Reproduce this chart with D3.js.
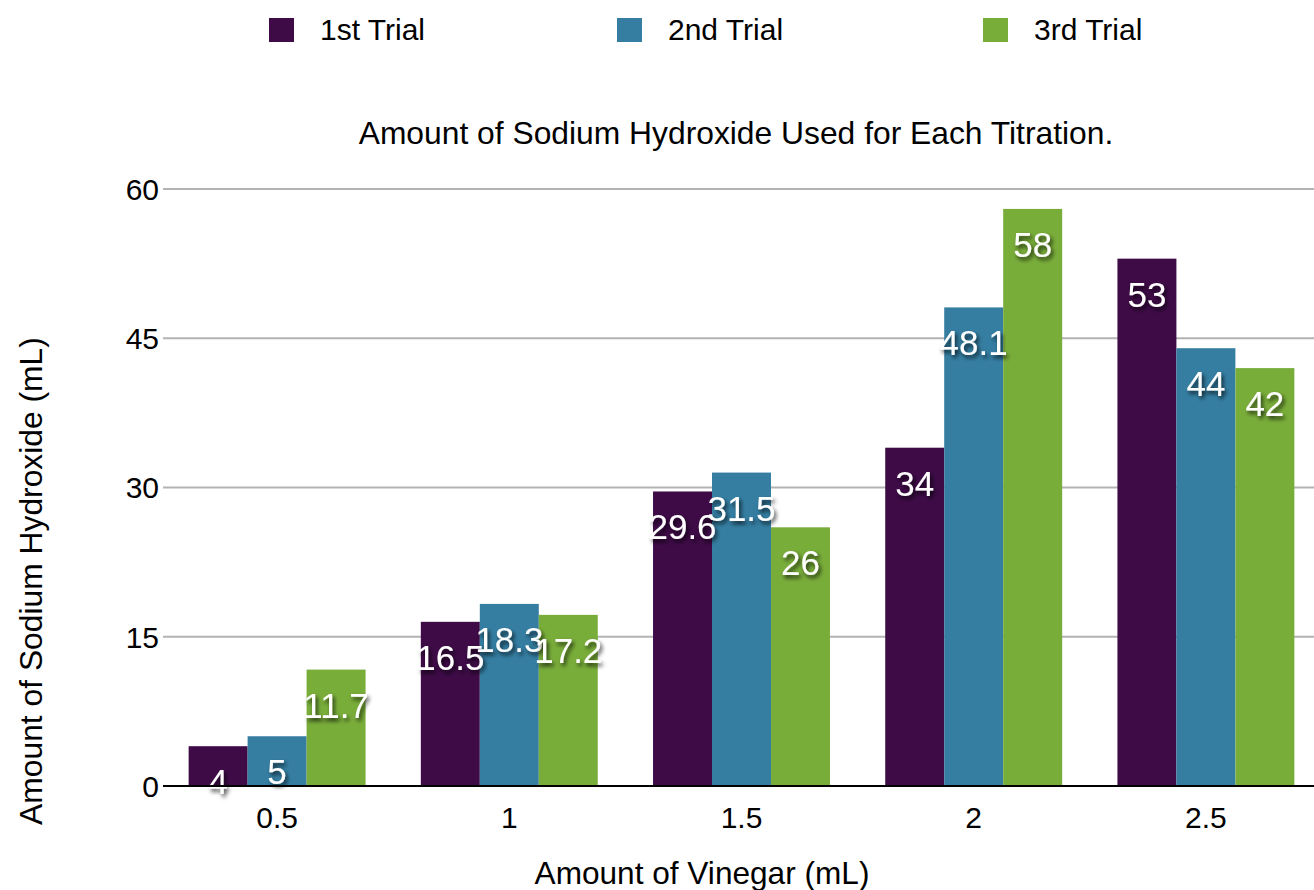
<!DOCTYPE html>
<html>
<head>
<meta charset="utf-8">
<script src="https://cdn.jsdelivr.net/npm/d3@7"></script>
<style>
  html, body { margin: 0; padding: 0; background: #fff; }
  svg { display: block; font-family: "Liberation Sans", Arial, Helvetica, sans-serif; }
</style>
</head>
<body>
<svg id="chart" width="1314" height="890"></svg>
<script>
const categories = ["0.5", "1", "1.5", "2", "2.5"];
const seriesNames = ["1st Trial", "2nd Trial", "3rd Trial"];
const trial1 = [4, 16.5, 29.6, 34, 53];
const trial2 = [5, 18.3, 31.5, 48.1, 44];
const trial3 = [11.7, 17.2, 26, 58, 42];
const yTicks = [0, 15, 30, 45, 60];
const colors = ["#3e0b47", "#357ea2", "#79ad3a"];
const chartTitle = "Amount of Sodium Hydroxide Used for Each Titration.";
const xTitle = "Amount of Vinegar (mL)";
const yTitle = "Amount of Sodium Hydroxide (mL)";

(function () {
const seriesValues = [trial1, trial2, trial3];
const rows = categories.map((c, i) => ({ cat: c, vals: seriesValues.map((s, j) => ({ key: seriesNames[j], v: s[i], j })) }));

const svg = d3.select("#chart");
const W = 1314;
const gridLeft = 163;
const mLeft = 161, mRight = 1322, mTop = 189, mBottom = 786;

const x0 = d3.scaleBand().domain(categories).range([mLeft, mRight]).paddingInner(0.238).paddingOuter(0.119);
const x1 = d3.scaleBand().domain(seriesNames).range([0, x0.bandwidth()]).padding(0);
const y = d3.scaleLinear().domain([0, 60]).range([mBottom, mTop]);

const defs = svg.append("defs");
const f = defs.append("filter").attr("id", "shadow").attr("x", "-20%").attr("y", "-30%").attr("width", "150%").attr("height", "170%");
f.append("feDropShadow").attr("dx", 2).attr("dy", 3).attr("stdDeviation", 2).attr("flood-color", "#000").attr("flood-opacity", 0.75);

// gridlines
svg.append("g").selectAll("line").data(yTicks.filter(t => t !== 0)).join("line")
  .attr("x1", gridLeft).attr("x2", W).attr("y1", d => y(d)).attr("y2", d => y(d))
  .attr("stroke", "#b3b3b3").attr("stroke-width", 2);

// y tick labels
svg.append("g").selectAll("text").data(yTicks).join("text")
  .attr("x", 159).attr("y", d => y(d)).attr("dy", "0.36em")
  .attr("text-anchor", "end").attr("font-size", 30).attr("fill", "#000")
  .text(d => d);

// bars
const groups = svg.append("g").selectAll("g").data(rows).join("g")
  .attr("transform", d => `translate(${x0(d.cat)},0)`);
groups.selectAll("rect").data(d => d.vals).join("rect")
  .attr("x", d => x1(d.key)).attr("width", x1.bandwidth())
  .attr("y", d => y(d.v)).attr("height", d => y(0) - y(d.v))
  .attr("fill", d => colors[d.j]);

// baseline
svg.append("line").attr("x1", gridLeft).attr("x2", W).attr("y1", y(0)).attr("y2", y(0))
  .attr("stroke", "#000").attr("stroke-width", 2);

// value labels
groups.selectAll("text").data(d => d.vals).join("text")
  .attr("x", d => x1(d.key) + x1.bandwidth() / 2)
  .attr("y", d => y(d.v) + 48)
  .attr("text-anchor", "middle").attr("font-size", 35).attr("fill", "#fff")
  .attr("filter", "url(#shadow)")
  .text(d => d.v);

// x tick labels
svg.append("g").selectAll("text").data(categories).join("text")
  .attr("x", d => x0(d) + x0.bandwidth() / 2).attr("y", 828)
  .attr("text-anchor", "middle").attr("font-size", 30).attr("fill", "#000")
  .text(d => d);

// titles
svg.append("text").attr("x", 736).attr("y", 144).attr("text-anchor", "middle")
  .attr("font-size", 31.8).attr("fill", "#000").text(chartTitle);
svg.append("text").attr("x", 702).attr("y", 884).attr("text-anchor", "middle")
  .attr("font-size", 31.6).attr("fill", "#000").text(xTitle);
svg.append("text").attr("transform", "translate(42,581) rotate(-90)").attr("text-anchor", "middle")
  .attr("font-size", 31.8).attr("fill", "#000").text(yTitle);

// legend
const legendX = [269, 617, 983];
const lg = svg.append("g").selectAll("g").data(seriesNames).join("g")
  .attr("transform", (d, i) => `translate(${legendX[i]},18)`);
lg.append("rect").attr("width", 25).attr("height", 24).attr("fill", (d, i) => colors[i]);
lg.append("text").attr("x", 51).attr("y", 22).attr("font-size", 30).attr("fill", "#000").text(d => d);
})();
</script>
</body>
</html>
